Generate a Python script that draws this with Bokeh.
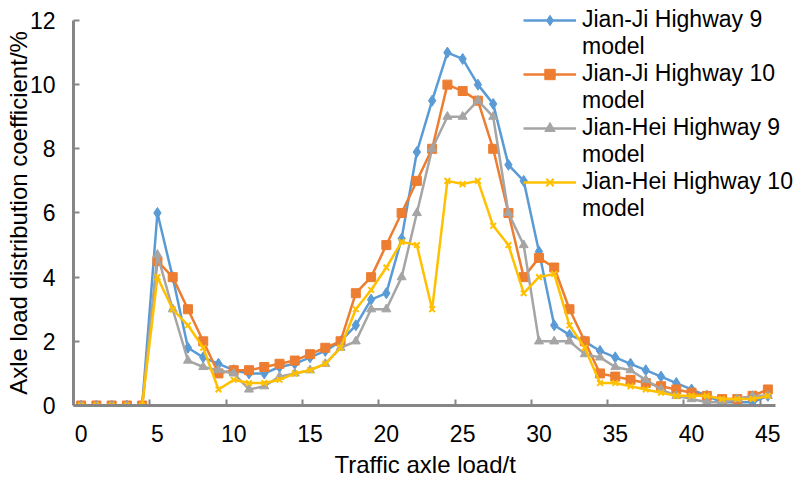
from bokeh.plotting import figure
from bokeh.models import FixedTicker, LinearAxis, Legend, LegendItem, Range1d
from bokeh.embed import file_html
from bokeh.resources import INLINE

# Traffic axle load (t)
loads = list(range(46))
x_tick_labels = [0, 5, 10, 15, 20, 25, 30, 35, 40, 45]
y_ticks = [0, 2, 4, 6, 8, 10, 12]

jianji_9 = [0, 0, 0, 0, 0, 6.0, 4.0, 1.8, 1.5, 1.3,
            1.1, 1.0, 1.0, 1.2, 1.3, 1.5, 1.7, 2.0, 2.5, 3.3,
            3.5, 5.2, 7.9, 9.5, 11.0, 10.8, 10.0, 9.4, 7.5, 7.0,
            4.8, 2.5, 2.2, 2.0, 1.7, 1.5, 1.3, 1.1, 0.9, 0.7,
            0.5, 0.3, 0.1, 0.1, 0.1, 0.3]
jianji_10 = [0, 0, 0, 0, 0, 4.5, 4.0, 3.0, 2.0, 1.0,
             1.1, 1.1, 1.2, 1.3, 1.4, 1.6, 1.8, 2.0, 3.5, 4.0,
             5.0, 6.0, 7.0, 8.0, 10.0, 9.8, 9.5, 8.0, 6.0, 4.0,
             4.6, 4.3, 3.0, 2.0, 1.0, 0.9, 0.8, 0.7, 0.6, 0.5,
             0.4, 0.3, 0.2, 0.2, 0.3, 0.5]
jianhei_9 = [0, 0, 0, 0, 0, 4.7, 3.0, 1.4, 1.2, 1.1,
             1.0, 0.5, 0.6, 0.9, 1.0, 1.1, 1.3, 1.8, 2.0, 3.0,
             3.0, 4.0, 6.0, 8.0, 9.0, 9.0, 9.5, 9.0, 6.0, 5.0,
             2.0, 2.0, 2.0, 1.6, 1.5, 1.2, 1.1, 0.8, 0.5, 0.3,
             0.2, 0.1, 0.1, 0.2, 0.3, 0.3]
jianhei_10 = [0, 0, 0, 0, 0, 4.0, 3.0, 2.5, 1.8, 0.5,
              0.8, 0.7, 0.7, 0.8, 1.0, 1.1, 1.3, 1.8, 3.0, 3.6,
              4.3, 5.1, 5.0, 3.0, 7.0, 6.9, 7.0, 5.6, 5.0, 3.5,
              4.0, 4.1, 2.5, 1.8, 0.7, 0.7, 0.6, 0.5, 0.4, 0.3,
              0.3, 0.3, 0.2, 0.2, 0.2, 0.3]

series = [
    ("Jian-Ji Highway 9", jianji_9, "#5B9BD5", "diamond", 11),
    ("Jian-Ji Highway 10", jianji_10, "#ED7D31", "square", 9),
    ("Jian-Hei Highway 9", jianhei_9, "#A5A5A5", "triangle", 9),
    ("Jian-Hei Highway 10", jianhei_10, "#FFC000", "x", 8),
]

FONT = "Liberation Sans"
AXIS_COLOR = "#868686"
NBSP = "\u00a0"

# Frame spans the canvas top and right edge (no outline drawn) so the legend
# is not clipped; ranges are extended so that 0..12 and -0.5..45.5 land where
# the reference draws them, and the axis lines are bounded to those spans.
FRAME_LEFT, FRAME_BOTTOM = 73, 406
Y_TOP_PX, X_RIGHT_PX = 20, 775
y_per_px = 12 / (FRAME_BOTTOM - Y_TOP_PX)
x_per_px = 46 / (X_RIGHT_PX - FRAME_LEFT)
y_max = FRAME_BOTTOM * y_per_px
x_max = -0.5 + (803 - FRAME_LEFT) * x_per_px

p = figure(width=803, height=480, output_backend="svg", toolbar_location=None,
           x_range=Range1d(-0.5, x_max), y_range=Range1d(0, y_max),
           x_axis_location=None, y_axis_location=None,
           min_border_left=FRAME_LEFT, min_border_right=0, min_border_top=0,
           min_border_bottom=480 - FRAME_BOTTOM)
p.outline_line_color = None
p.xgrid.visible = False
p.ygrid.visible = False

# y axis
yax = LinearAxis(ticker=FixedTicker(ticks=y_ticks, minor_ticks=[]), bounds=(0, 12))
yax.axis_line_color = AXIS_COLOR
yax.axis_line_width = 3
yax.major_tick_line_color = AXIS_COLOR
yax.major_tick_line_width = 2
yax.major_tick_in = 6
yax.major_tick_out = 0
yax.minor_tick_line_color = None
yax.major_label_standoff = 18
yax.major_label_text_font = FONT
yax.major_label_text_font_size = "23px"
yax.major_label_text_color = "black"
# trailing no-break spaces re-centre the title on the 0..12 span
yax.axis_label = "Axle load distribution coefficient/%" + NBSP * 3
yax.axis_label_text_font = FONT
yax.axis_label_text_font_size = "24px"
yax.axis_label_text_font_style = "normal"
yax.axis_label_text_color = "black"
yax.axis_label_standoff = -5
p.add_layout(yax, "left")

# x axis (category-style: tick marks between categories)
minor = [t - 0.5 for t in x_tick_labels[1:]]
xax = LinearAxis(ticker=FixedTicker(ticks=x_tick_labels, minor_ticks=minor),
                 bounds=(-0.5, 45.5))
xax.axis_line_color = AXIS_COLOR
xax.axis_line_width = 3
xax.major_tick_line_color = None
xax.major_tick_in = 0
xax.major_tick_out = 0
xax.minor_tick_line_color = AXIS_COLOR
xax.minor_tick_line_width = 2
xax.minor_tick_in = 6
xax.minor_tick_out = 0
xax.major_label_standoff = 19
xax.major_label_text_font = FONT
xax.major_label_text_font_size = "23px"
xax.major_label_text_color = "black"
xax.axis_label = "Traffic axle load/t" + NBSP * 4
xax.axis_label_text_font = FONT
xax.axis_label_text_font_size = "24px"
xax.axis_label_text_font_style = "normal"
xax.axis_label_text_color = "black"
xax.axis_label_standoff = 6
p.add_layout(xax, "below")

items = []
for name, vals, color, marker, size in series:
    l = p.line(loads, vals, line_color=color, line_width=2.5)
    s = p.scatter(loads, vals, marker=marker, size=size, fill_color=color,
                  line_color=color, line_width=2 if marker == "x" else 1)
    dummy = p.line([], [], line_alpha=0)
    items.append(LegendItem(label=name, renderers=[l, s]))
    items.append(LegendItem(label="model", renderers=[dummy]))

legend = Legend(items=items, location=(450, 183), orientation="vertical",
                border_line_color=None, background_fill_alpha=0,
                padding=0, margin=0, spacing=0, label_standoff=6,
                glyph_width=53, glyph_height=26, label_height=26,
                label_text_font=FONT, label_text_font_size="23px",
                label_text_color="black")
p.add_layout(legend)

open("out.html", "w").write(file_html(p, INLINE))
